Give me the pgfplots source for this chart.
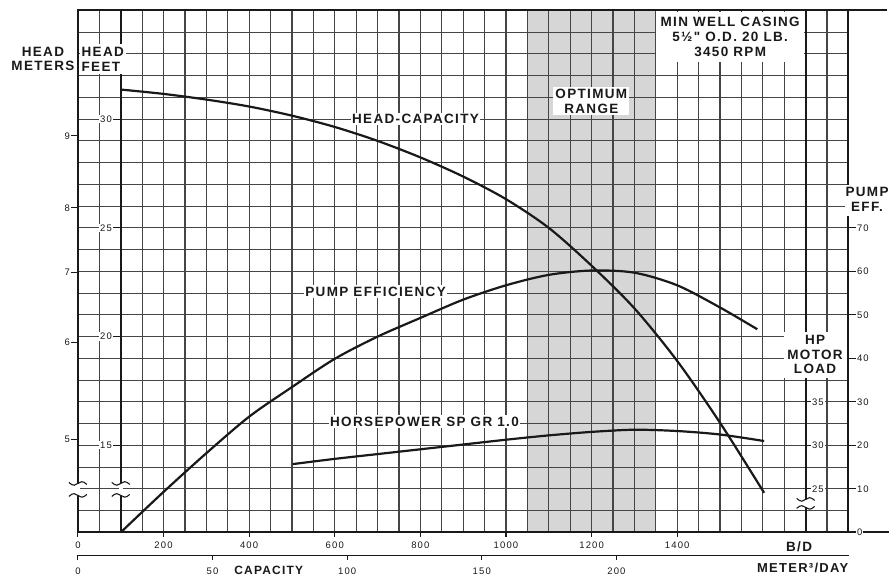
\documentclass[border=0pt]{standalone}
\usepackage{fontspec}
\setmainfont{Liberation Sans}
\newfontfamily\labfont[LetterSpace=10]{Liberation Sans}
\newfontfamily\tickfont[LetterSpace=12]{Liberation Sans}
\usepackage{pgfplots}
\pgfplotsset{compat=1.18}

\definecolor{ink}{gray}{0.1}
\definecolor{gridc}{gray}{0.27}
\definecolor{optfill}{gray}{0.84}

\tikzset{
  lbl/.style={font=\labfont\bfseries\fontsize{13.5}{15}\selectfont, align=center, inner sep=1.5pt, text=ink},
  tk/.style={font=\tickfont\fontsize{9.5}{10}\selectfont, inner sep=0.8pt, text=ink},
  brk/.style={ink, line width=1.1pt},
}

\begin{document}
\begin{tikzpicture}
\begin{axis}[
  set layers,
  x=0.428571pt, y=4.355pt,
  xmin=0, xmax=1800, ymin=0, ymax=120,
  at={(0pt,0pt)}, anchor=origin,
  xtick={0,50,...,1800}, ytick={0,5,...,120},
  xticklabels={}, yticklabels={},
  major tick length=0pt,
  grid=major,
  grid style={gridc, line width=1.15pt},
  axis line style={ink, line width=2pt},
  clip=false,
]
% optimum operating range (1050-1350 B/D)
\addplot[draw=none, fill=optfill, on layer=axis background]
  coordinates {(1050,120) (1350,120)} \closedcycle;

% head axis in feet and motor-load axis
\draw[ink, line width=2pt] (axis cs:100,0) -- (axis cs:100,120);
\draw[ink, line width=2pt] (axis cs:1700,0) -- (axis cs:1700,120);

% head-capacity (plotted on the feet scale: y = 5*ft - 55)
\addplot[ink, line width=2.2pt, smooth] coordinates {
  (100,101.8) (200,100.8) (300,99.5) (400,97.9) (500,95.8) (600,93.2)
  (700,90.0) (800,86.2) (900,81.8) (1000,76.6) (1100,70.0) (1200,61.3)
  (1300,51.5) (1400,39.4) (1500,25.2) (1603,9.1)};

% pump efficiency, percent
\addplot[ink, line width=2.2pt, smooth] coordinates {
  (100,0) (200,9.3) (300,18.2) (400,26.6) (500,33.4) (600,39.9)
  (700,45.0) (800,49.3) (900,53.5) (1000,56.8) (1100,59.2) (1200,60.2)
  (1300,59.7) (1400,56.8) (1500,51.7) (1587,46.7)};

% horsepower, sp. gr. 1.0 (motor-load scale: y = 2*(HP% - 20))
\addplot[ink, line width=2.2pt, smooth] coordinates {
  (502,15.7) (600,16.9) (700,18.0) (800,19.1) (900,20.2) (1000,21.3)
  (1100,22.3) (1200,23.1) (1300,23.6) (1400,23.3) (1500,22.5) (1603,21.0)};
\end{axis}

% annotations, laid out in a top-left based frame (1 unit = 1pt)
\begin{scope}[x=1pt, y=-1pt, shift={(-78pt,533pt)}]
\path (0,0) rectangle (890,578);

% curve labels
\node[lbl, fill=white] at (416,119) {HEAD-CAPACITY};
\node[lbl, fill=white] at (376,292) {PUMP EFFICIENCY};
\node[lbl, fill=white] at (425,422) {HORSEPOWER SP GR 1.0};
\node[lbl, fill=white, inner sep=2pt] at (592,101) {OPTIMUM\\RANGE};

% pump data block
\fill[white] (657,12) rectangle (805,62);
\node[lbl] at (731,37) {MIN WELL CASING\\5½" O.D. 20 LB.\\3450 RPM};

% axis titles
\node[lbl] at (43,59) {HEAD\\METERS};
\fill[white] (80,44) rectangle (126,74);
\node[lbl, align=left, anchor=west] at (80,59) {HEAD\\FEET};
\fill[white] (846,185) rectangle (890,216);
\node[lbl] at (868,200) {PUMP\\EFF.};
\fill[white] (785,332) rectangle (848,378);
\node[lbl, font=\labfont\bfseries\fontsize{13.5}{14.5}\selectfont] at (816,355) {HP\\MOTOR\\LOAD};

% extensions of the frame beyond the efficiency axis
\draw[ink, line width=2pt] (849,10.4) -- (888,10.4);
\draw[ink, line width=2pt] (849,533) -- (890,533);

% head in meters (left frame)
\foreach \lab/\yy in {9/136, 8/208, 7/273, 6/343, 5/440} {
  \draw[ink, line width=1.1pt] (71,\yy) -- (78,\yy);
  \node[tk, anchor=east] at (71,\yy) {\lab};
}
% head in feet
\foreach \lab/\yy in {30/119.3, 25/228.2, 20/337.0, 15/445.9} {
  \draw[ink, line width=1.1pt] (113,\yy) -- (120.9,\yy);
  \node[tk, anchor=east, fill=white] at (113,\yy) {\lab};
}
% pump efficiency, percent
\foreach \lab in {0,10,...,70} {
  \draw[ink, line width=1.1pt] (850,{533-\lab*4.355}) -- (857,{533-\lab*4.355});
  \node[tk, anchor=west, fill=white] at (857,{533-\lab*4.355}) {\lab};
}
% motor load
\foreach \lab/\yy in {35/402.4, 30/445.9, 25/489.5} {
  \draw[ink, line width=1.1pt] (806.6,\yy) -- (812,\yy);
  \node[tk, anchor=west, fill=white] at (812,\yy) {\lab};
}

% capacity in barrels per day
\foreach \v in {0,200,...,1400} {
  \draw[ink, line width=1.1pt] ({78+\v*0.428571},533) -- ++(0,5);
  \node[tk] at ({78+\v*0.428571},546) {\v};
}
\node[lbl] at (800,547) {B/D};

% capacity in cubic meters per day
\draw[ink, line width=1.5pt] (78,556) -- (850,556);
\foreach \v in {0,50,...,200} {
  \draw[ink, line width=1.1pt] ({78+\v*2.69563},556) -- ++(0,5);
  \node[tk] at ({78+\v*2.69563},572) {\v};
}
\node[lbl, font=\labfont\bfseries\fontsize{12}{13}\selectfont] at (269,571) {CAPACITY};
\node[lbl, anchor=east, font=\labfont\bfseries\fontsize{13}{14}\selectfont] at (851,569) {METER³/DAY};

% scale breaks
\foreach \xx/\ya/\yb in {78/484/496, 120.9/484/496, 806.6/500/508} {
  \fill[white] (\xx-2,\ya) rectangle (\xx+2,\yb);
  \draw[brk] (\xx-9,\ya-1) .. controls (\xx-5,\ya+3) and (\xx-2,\ya+2) .. (\xx,\ya)
             .. controls (\xx+2,\ya-2) and (\xx+5,\ya-3) .. (\xx+9,\ya+1);
  \draw[brk] (\xx-9,\yb+1) .. controls (\xx-5,\yb-3) and (\xx-2,\yb-2) .. (\xx,\yb)
             .. controls (\xx+2,\yb+2) and (\xx+5,\yb+3) .. (\xx+9,\yb-1);
}
\end{scope}
\end{tikzpicture}
\end{document}
